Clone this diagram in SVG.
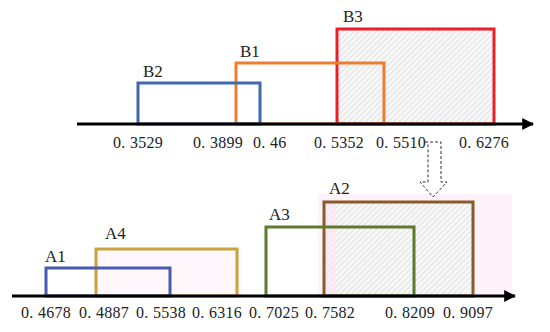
<svg xmlns="http://www.w3.org/2000/svg" width="550" height="332" viewBox="0 0 550 332">
<defs>
<pattern id="hatch" patternUnits="userSpaceOnUse" width="4" height="4" patternTransform="rotate(45)">
<rect width="4" height="4" fill="#f7f7f7"/>
<line x1="0" y1="0" x2="0" y2="4" stroke="#d2d2d2" stroke-width="1.1"/>
</pattern>
<marker id="arr" viewBox="0 0 10 10" refX="9" refY="5" markerWidth="4" markerHeight="4" orient="auto" markerUnits="strokeWidth">
<path d="M0,0 L10,5 L0,10 Z" fill="#000"/>
</marker>
</defs>
<style>
.box{fill:none;stroke-width:3}
.lbl{font-family:"Liberation Serif","Times New Roman",serif;font-size:17px;fill:#222}
.num{font-family:"Liberation Serif","Times New Roman",serif;font-size:16px;fill:#222;letter-spacing:0.3px}
.axis{stroke:#000;stroke-width:3;fill:none}
.dash{fill:none;stroke:#333;stroke-width:1;stroke-dasharray:3,2}
</style>
<rect x="0" y="0" width="550" height="332" fill="#fff"/>

<g id="B3">
<rect x="337" y="29" width="157" height="95" fill="url(#hatch)"/>
<rect class="box" x="337" y="29" width="157" height="95" stroke="#e8202a"/>
<text class="lbl" x="343" y="22">B3</text>
</g>
<g id="B1">
<rect class="box" x="236" y="63" width="148" height="61" stroke="#ed7d31"/>
<text class="lbl" x="240" y="57">B1</text>
</g>
<g id="B2">
<rect class="box" x="138" y="83" width="122" height="41" stroke="#4169b0"/>
<text class="lbl" x="143" y="77">B2</text>
</g>

<g id="A2">
<rect x="318" y="194" width="194" height="102" fill="#fef3fa"/>
<rect x="324" y="202" width="149" height="94" fill="url(#hatch)"/>
<rect x="325" y="203" width="10" height="92" fill="#fde6f2" opacity="0.7"/>
<rect class="box" x="324" y="202" width="149" height="94" stroke="#8b5a2b"/>
<text class="lbl" x="329" y="194">A2</text>
</g>
<g id="A3">
<rect class="box" x="266" y="227" width="148" height="69" stroke="#5e7a2e"/>
<text class="lbl" x="269" y="220">A3</text>
</g>
<g id="A4">
<rect x="96" y="249" width="146" height="47" fill="#fff7fb"/>
<rect class="box" x="96" y="249" width="141" height="47" stroke="#c9a23a"/>
<text class="lbl" x="105" y="239">A4</text>
</g>
<g id="A1">
<rect class="box" x="46" y="268" width="124" height="28" stroke="#4a5ab0"/>
<text class="lbl" x="45" y="262">A1</text>
</g>

<g id="connectors">
<line class="axis" x1="77" y1="124" x2="533" y2="124" marker-end="url(#arr)"/>
<line class="axis" x1="12" y1="296" x2="515" y2="296" marker-end="url(#arr)"/>
<path class="dash" d="M425,142 L441,142 L441,182 L447,182 L433,197 L420,182 L428,182 L428,142"/>
</g>

<g id="labels-top">
<text class="num" x="113" y="148">0. 3529</text>
<text class="num" x="193" y="148">0. 3899</text>
<text class="num" x="253" y="148">0. 46</text>
<text class="num" x="314" y="148">0. 5352</text>
<text class="num" x="376" y="148">0. 5510</text>
<text class="num" x="459" y="148">0. 6276</text>
</g>
<g id="labels-bottom">
<text class="num" x="21" y="318">0. 4678</text>
<text class="num" x="79" y="318">0. 4887</text>
<text class="num" x="136" y="318">0. 5538</text>
<text class="num" x="192" y="318">0. 6316</text>
<text class="num" x="249" y="318">0. 7025</text>
<text class="num" x="305" y="318">0. 7582</text>
<text class="num" x="385" y="318">0. 8209</text>
<text class="num" x="443" y="318">0. 9097</text>
</g>
</svg>
